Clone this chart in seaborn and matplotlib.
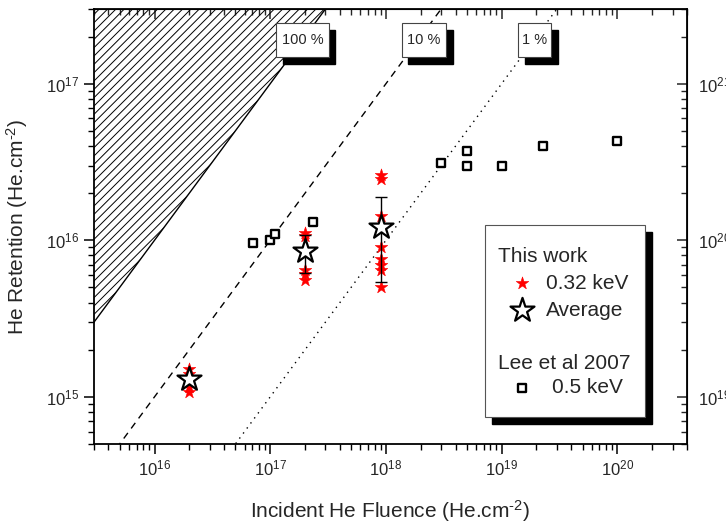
import numpy as np
import pandas as pd
import matplotlib
matplotlib.use("Agg")
import matplotlib.pyplot as plt
import seaborn as sns
from matplotlib.patches import Rectangle
from matplotlib.ticker import NullFormatter

# ------------------------------------------------ data ------------------------------------------------
# this work, 0.32 keV (individual measurements)
fluence_this = [2e16, 2e16, 2e16, 2e16,
                2e17, 2e17, 2e17, 2e17, 2e17,
                9e17, 9e17, 9e17, 9e17, 9e17, 9e17, 9e17, 9e17]
retention_this = [1.08e15, 1.15e15, 1.4e15, 1.5e15,
                  5.6e15, 6.1e15, 6.5e15, 1.06e16, 1.12e16,
                  5.0e15, 6.5e15, 7.0e15, 7.6e15, 9.0e15, 1.42e16, 2.48e16, 2.63e16]

# this work, averages
avg_fluence = [2e16, 2e17, 9e17]
avg_retention = [1.3e15, 8.5e15, 1.21e16]
avg_err = [0.0, 2.35e15, 6.7e15]

# Lee et al 2007, 0.5 keV
lee_fluence = [7.1e16, 1.0e17, 1.1e17, 2.35e17, 3.0e18, 5.0e18, 5.0e18, 1.0e19, 2.3e19, 1.0e20]
lee_retention = [9.6e15, 1.0e16, 1.1e16, 1.3e16, 3.1e16, 3.7e16, 2.96e16, 2.96e16, 4.0e16, 4.3e16]

# retention ratio reference lines
ratios = [1.0, 0.1, 0.01]
ratio_labels = ["100 %", "10 %", "1 %"]

x_lim = (3e15, 4e20)
y_lim = (5e14, 3e17)

df_this = pd.DataFrame({"fluence": fluence_this, "retention": retention_this})
df_avg = pd.DataFrame({"fluence": avg_fluence, "retention": avg_retention, "err": avg_err})
df_lee = pd.DataFrame({"fluence": lee_fluence, "retention": lee_retention})

# ------------------------------------------------ style -----------------------------------------------
sns.set_style("ticks")
plt.rcParams["font.family"] = ["Liberation Sans", "DejaVu Sans"]
plt.rcParams["mathtext.fontset"] = "custom"
plt.rcParams["mathtext.rm"] = "Liberation Sans"
plt.rcParams["mathtext.it"] = "Liberation Sans:italic"
plt.rcParams["mathtext.bf"] = "Liberation Sans:bold"
plt.rcParams["axes.edgecolor"] = "black"
plt.rcParams["hatch.linewidth"] = 0.7

fig = plt.figure(figsize=(7.26, 5.23), dpi=100)
ax = fig.add_axes([0.1295, 0.1511, 0.8168, 0.8317])
ax.set_xscale("log")
ax.set_yscale("log")

# ------------------------------------------------ reference lines --------------------------------------
xs = np.array(x_lim)
hatch_x = np.array([x_lim[0], y_lim[1]])
ax.fill_between(hatch_x, hatch_x * ratios[0], y_lim[1], facecolor="none",
                edgecolor="black", hatch="////", linewidth=0, zorder=1)
line_styles = ["-", (0, (5, 4)), (0, (1, 3.5))]
for r, ls in zip(ratios, line_styles):
    ax.plot(xs, xs * r, color="black", linestyle=ls, linewidth=1.0, zorder=2)

# ------------------------------------------------ data points ------------------------------------------
sns.scatterplot(data=df_lee, x="fluence", y="retention", marker="s", s=32,
                color="white", edgecolor="black", linewidth=1.7, ax=ax, zorder=3)
sns.scatterplot(data=df_this, x="fluence", y="retention", marker="*", s=90,
                color="red", edgecolor="red", linewidth=0.4, ax=ax, zorder=4)
ax.errorbar(df_avg["fluence"], df_avg["retention"], yerr=df_avg["err"], fmt="none",
            ecolor="black", elinewidth=1.0, capsize=4, capthick=1.0, zorder=5)
sns.scatterplot(data=df_avg, x="fluence", y="retention", marker="*", s=330,
                color="white", edgecolor="black", linewidth=1.6, ax=ax, zorder=6)

ax.set_xlim(*x_lim)
ax.set_ylim(*y_lim)

# ------------------------------------------------ ratio label boxes ------------------------------------
box_x = [0.307, 0.519, 0.715]
box_w = [0.089, 0.075, 0.056]
for x0, w, lab in zip(box_x, box_w, ratio_labels):
    ax.add_patch(Rectangle((x0 + 0.011, 0.874), w, 0.078, transform=ax.transAxes,
                           facecolor="black", edgecolor="black", zorder=7, clip_on=False))
    ax.add_patch(Rectangle((x0, 0.890), w, 0.078, transform=ax.transAxes,
                           facecolor="white", edgecolor="#444444", linewidth=0.8, zorder=8))
    ax.text(x0 + w / 2, 0.929, lab, transform=ax.transAxes, ha="center", va="center",
            fontsize=10.5, zorder=9)

# ------------------------------------------------ legend -----------------------------------------------
lx, ly, lw, lh = 0.659, 0.062, 0.270, 0.441
ax.add_patch(Rectangle((lx + 0.012, ly - 0.016), lw, lh, transform=ax.transAxes,
                       facecolor="black", edgecolor="black", zorder=7))
ax.add_patch(Rectangle((lx, ly), lw, lh, transform=ax.transAxes,
                       facecolor="white", edgecolor="#555555", linewidth=0.8, zorder=8))
ax.text(0.681, 0.430, "This work", transform=ax.transAxes, va="center", fontsize=15, zorder=9)
ax.scatter([0.722], [0.370], transform=ax.transAxes, marker="*", s=90, color="red",
           edgecolor="red", linewidth=0.4, zorder=9)
ax.text(0.762, 0.370, "0.32 keV", transform=ax.transAxes, va="center", fontsize=15, zorder=9)
ax.scatter([0.722], [0.308], transform=ax.transAxes, marker="*", s=330, color="white",
           edgecolor="black", linewidth=1.6, zorder=9)
ax.text(0.762, 0.308, "Average", transform=ax.transAxes, va="center", fontsize=15, zorder=9)
ax.text(0.681, 0.186, "Lee et al 2007", transform=ax.transAxes, va="center", fontsize=15, zorder=9)
ax.scatter([0.722], [0.129], transform=ax.transAxes, marker="s", s=32, color="white",
           edgecolor="black", linewidth=1.7, zorder=9)
ax.text(0.772, 0.129, "0.5 keV", transform=ax.transAxes, va="center", fontsize=15, zorder=9)

# ------------------------------------------------ axes -------------------------------------------------
for sp in ax.spines.values():
    sp.set_linewidth(1.3)
ax.tick_params(which="major", direction="out", length=7, width=1.1, labelsize=12, color="black")
ax.tick_params(which="minor", direction="out", length=4, width=1.0, color="black")
ax.xaxis.set_minor_formatter(NullFormatter())
ax.yaxis.set_minor_formatter(NullFormatter())

top = ax.secondary_xaxis("top")
top.tick_params(which="major", direction="in", length=7, width=1.1, labeltop=False)
top.tick_params(which="minor", direction="in", length=4, width=1.0)
top.xaxis.set_minor_formatter(NullFormatter())

right = ax.secondary_yaxis("right", functions=(lambda y: y * 1e4, lambda y: y / 1e4))
right.tick_params(which="major", direction="in", length=7, width=1.1, labelsize=12, pad=8)
right.tick_params(which="minor", direction="in", length=4, width=1.0)
right.yaxis.set_minor_formatter(NullFormatter())

ax.set_xlabel(r"Incident He Fluence (He.cm$^{\text{-}2}$)", fontsize=15, labelpad=14)
ax.set_ylabel(r"He Retention (He.cm$^{\text{-}2}$)", fontsize=15, labelpad=12)

fig.savefig("out.png", dpi=100)
